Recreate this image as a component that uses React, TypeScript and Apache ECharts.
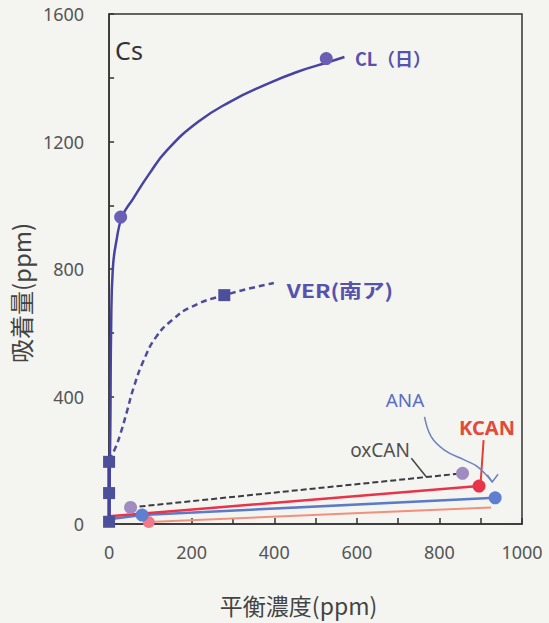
import React, { useEffect, useRef } from "react";
import * as echarts from "echarts";

const xTickLabels = [0, 200, 400, 600, 800, 1000];
const yTickLabels = [0, 400, 800, 1200, 1600];

const clCurve = [
  [0, 0], [3, 300], [5, 620], [9, 800], [18, 890], [32, 965], [58, 1020],
  [98, 1100], [140, 1172], [215, 1261], [295, 1326], [375, 1376],
  [455, 1418], [534, 1450], [570, 1465],
];
const clPoints = [[28, 963], [526, 1460]];

// VER (南ア)
const verStem = [[0, 0], [0, 200]];
const verCurve = [
  [0, 200], [14, 235], [28, 285], [42, 347], [60, 430], [84, 514], [114, 587],
  [152, 639], [199, 681], [279, 718], [399, 756],
];
const verPoints = [[0, 7], [0, 97], [0, 195], [279, 718]];

// low isotherms
const oxcanLine = [[52, 52], [856, 159]];
const oxcanPoints = [[52, 52], [856, 159]];
const kcanLine = [[0, 24], [896, 119]];
const kcanPoints = [[896, 119]];
const kcanLowLine = [[96, 6], [925, 52]];
const kcanLowPoints = [[96, 6]];
const anaLine = [[0, 15], [80, 28], [935, 82]];
const anaPoints = [[80, 28], [935, 82]];

// leader lines (data space)
const oxcanLeader = [[732, 206], [768, 148]];
const kcanLeader = [[907, 263], [900, 133]];
const anaLeader = [[764, 336], [780, 274], [812, 232], [860, 201], [892, 180], [928, 132]];
const anaArrow = [[916, 154], [928, 132], [942, 156]];

export default function App() {
  const ref = useRef<HTMLDivElement>(null);
  useEffect(() => {
    const chart = echarts.init(ref.current!, null, { renderer: "svg" });
    const font = '"Noto Sans", "Noto Sans CJK JP", sans-serif';
    const cjk = '"Noto Sans CJK JP", "Noto Sans", sans-serif';
    const option: any = {
      animation: false,
      backgroundColor: "#f4f4f0",
      grid: {
        left: 104, right: 27, top: 14, bottom: 99,
        show: true, borderColor: "#333", borderWidth: 1.5,
      },
      xAxis: {
        type: "value", min: 0, max: 1000, interval: 100,
        axisLine: { show: true, lineStyle: { color: "#333", width: 1.5 } },
        axisTick: { show: true, inside: true, length: 6, lineStyle: { color: "#333", width: 1.5 } },
        axisLabel: {
          formatter: (v: number) => (xTickLabels.includes(v) ? String(v) : ""),
          margin: 19, fontSize: 18, color: "#555", fontFamily: font,
        },
        splitLine: { show: false },
        name: "平衡濃度(ppm)", nameLocation: "middle", nameGap: 69,
        nameTextStyle: { fontSize: 23, color: "#444", fontFamily: cjk, padding: [0, 34, 0, 0] },
      },
      yAxis: {
        type: "value", min: 0, max: 1600, interval: 200,
        axisLine: { show: true, lineStyle: { color: "#333", width: 1.5 } },
        axisTick: { show: true, inside: true, length: 5, lineStyle: { color: "#333", width: 1.5 } },
        axisLabel: {
          formatter: (v: number) => (yTickLabels.includes(v) ? String(v) : ""),
          margin: 25, fontSize: 18, color: "#555", fontFamily: font,
        },
        splitLine: { show: false },
        name: "吸着量(ppm)", nameLocation: "middle", nameGap: 72, nameRotate: 90,
        nameTextStyle: { fontSize: 24, color: "#444", fontFamily: cjk, padding: [0, 48, 0, 0] },
      },
      series: [
        { name: "oxCAN", type: "line", data: oxcanLine, showSymbol: false,
          lineStyle: { color: "#3c3c46", width: 2, type: [6, 3] }, z: 2 },
        { name: "KCAN-low", type: "line", data: kcanLowLine, showSymbol: false,
          lineStyle: { color: "#f2907e", width: 2 }, z: 2 },
        { name: "ANA", type: "line", data: anaLine, showSymbol: false,
          lineStyle: { color: "#5b7bc8", width: 2.5 }, z: 2 },
        { name: "KCAN", type: "line", data: kcanLine, showSymbol: false,
          lineStyle: { color: "#e8334a", width: 2.5 }, z: 2 },
        { name: "VER-stem", type: "line", data: verStem, showSymbol: false,
          lineStyle: { color: "#3d3f8a", width: 3.5 }, z: 3 },
        { name: "VER", type: "line", data: verCurve, showSymbol: false, smooth: 0.5,
          lineStyle: { color: "#4d4c9c", width: 2.5, type: [6, 4] }, z: 3 },
        { name: "CL", type: "line", data: clCurve, showSymbol: false, smooth: 0.5,
          lineStyle: { color: "#4644a0", width: 2.5 }, z: 3 },
        { name: "oxCAN-pts", type: "scatter", data: oxcanPoints, symbol: "circle", symbolSize: 13,
          itemStyle: { color: "#a08cc0", opacity: 1 }, z: 5 },
        { name: "KCAN-low-pts", type: "scatter", data: kcanLowPoints, symbol: "circle", symbolSize: 12,
          itemStyle: { color: "#f07a8a", opacity: 1 }, z: 5 },
        { name: "ANA-pts", type: "scatter", data: anaPoints, symbol: "circle", symbolSize: 13,
          itemStyle: { color: "#5f7fd0", opacity: 1 }, z: 5 },
        { name: "KCAN-pts", type: "scatter", data: kcanPoints, symbol: "circle", symbolSize: 13,
          itemStyle: { color: "#e8334a", opacity: 1 }, z: 5 },
        { name: "VER-pts", type: "scatter", data: verPoints, symbol: "rect", symbolSize: 12,
          itemStyle: { color: "#4c4f9a", opacity: 1 }, z: 5 },
        { name: "CL-pts", type: "scatter", data: clPoints, symbol: "circle", symbolSize: 13,
          itemStyle: { color: "#6b5fb5", opacity: 1 }, z: 5 },
      ],
    };
    chart.setOption(option);
    const px = (p: number[]) => chart.convertToPixel({ gridIndex: 0 }, p) as number[];
    const text = (t: string, x: number, y: number, size: number, fill: string, bold: boolean, scaleX = 1, fam = cjk) => ({
      type: "text", x, y, scaleX, z: 10,
      style: {
        text: t, fill, font: `${bold ? "bold " : ""}${size}px ${fam}`,
        textAlign: "center", textVerticalAlign: "middle", align: "center", verticalAlign: "middle",
      },
    });
    const poly = (pts: number[][], stroke: string, w: number, smooth = 0) => ({
      type: "polyline", z: 10,
      shape: { points: pts.map(px), smooth },
      style: { stroke, lineWidth: w, fill: "none" },
    });
    chart.setOption({
      graphic: [
        text("Cs", 129, 50, 25, "#333", false, 1, font),
        text("CL（日）", 393, 58, 18, "#5752ad", true),
        text("VER(南ア)", 340, 290, 19, "#5752ad", true, 1.2),
        text("ANA", 405, 400, 18, "#5a6ec2", false, 1.05, font),
        text("KCAN", 487, 427, 20, "#e34a3c", true, 1, font),
        text("oxCAN", 380, 450, 19, "#505050", false, 1, font),
        poly(oxcanLeader, "#444", 1.5),
        poly(kcanLeader, "#e2403a", 2),
        poly(anaLeader, "#6b82c0", 1.5, 0.4),
        poly(anaArrow, "#6b82c0", 1.5),
      ],
    });
    return () => chart.dispose();
  }, []);
  return <div ref={ref} style={{ position: "absolute", left: 0, top: 0, width: 549, height: 623 }} />;
}
